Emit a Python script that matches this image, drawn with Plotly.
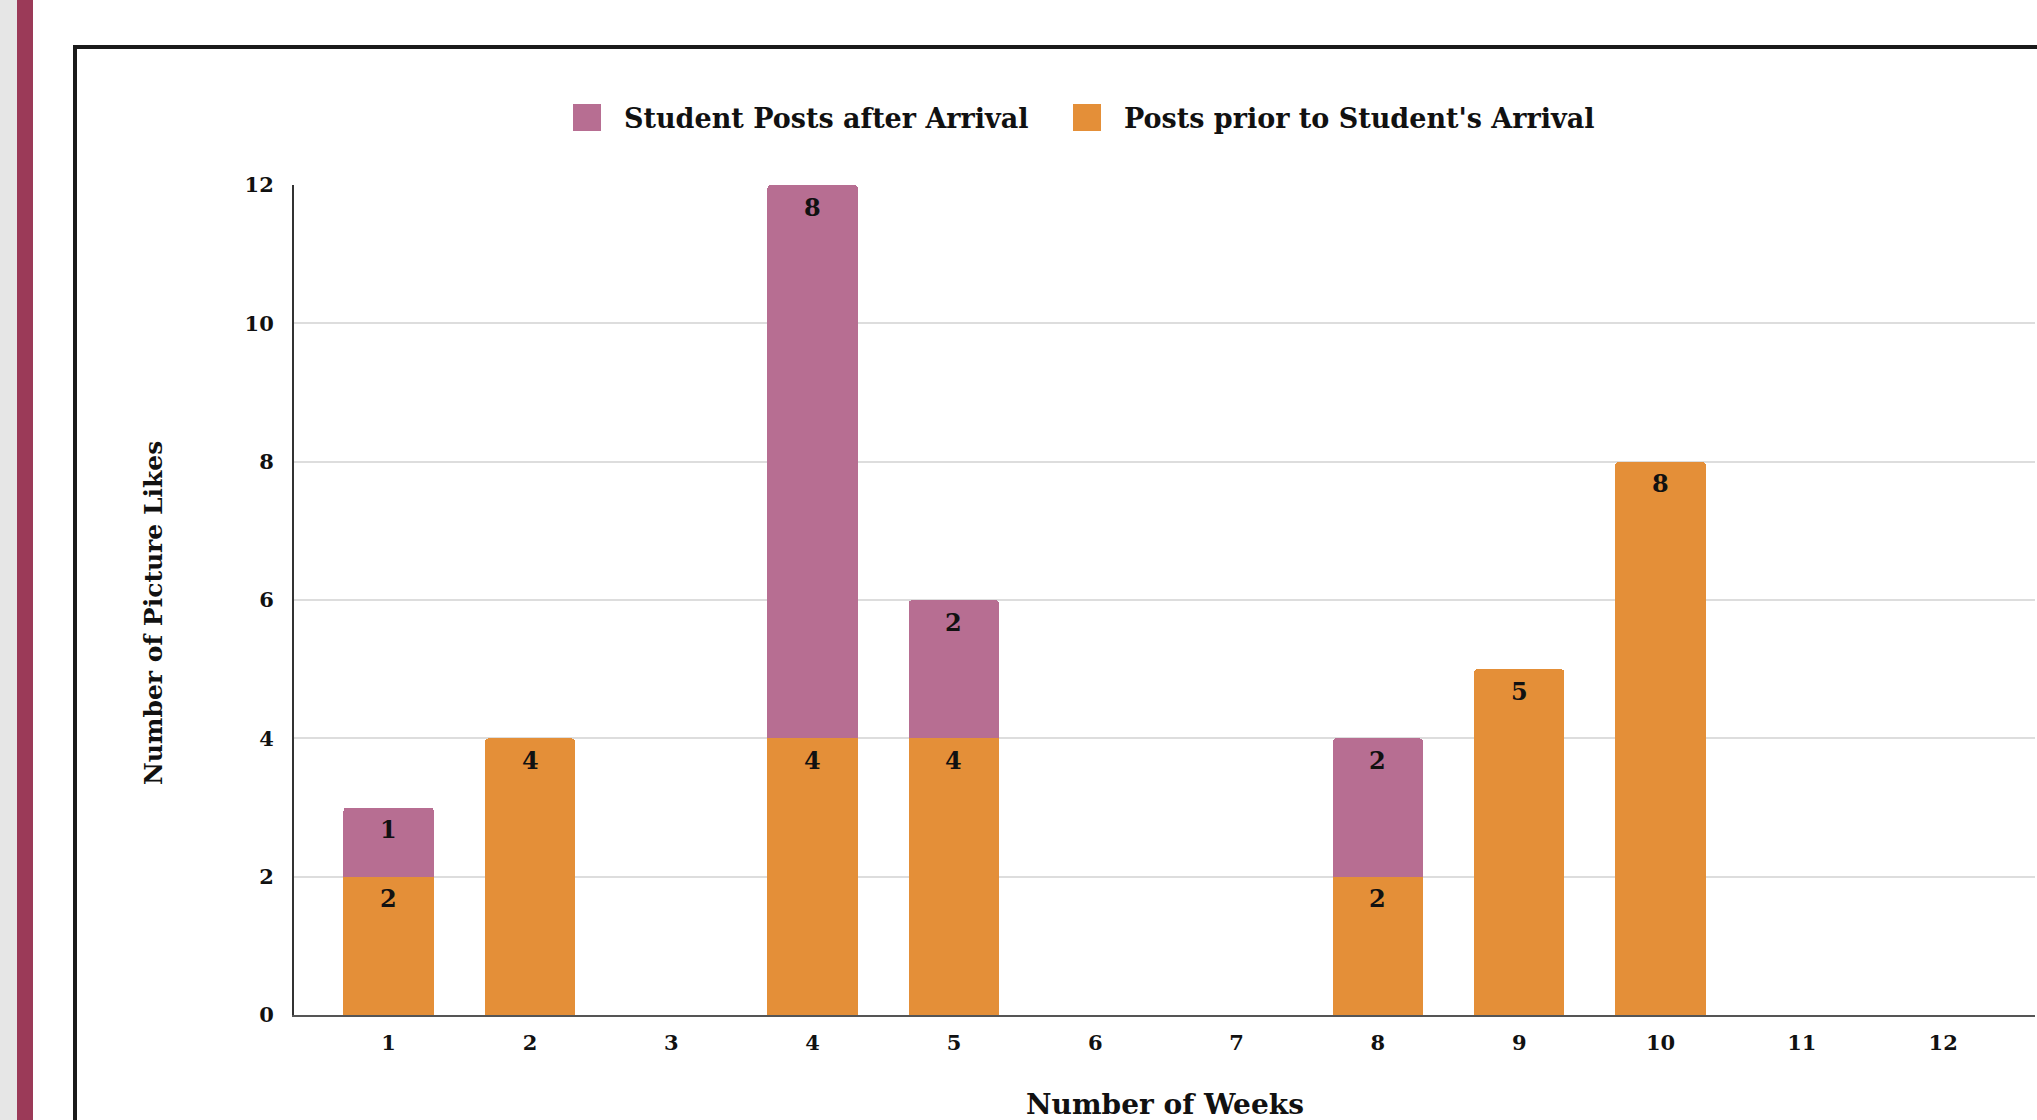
import plotly.graph_objects as go

weeks = [1, 2, 3, 4, 5, 6, 7, 8, 9, 10, 11, 12]
week_labels = ["1", "2", "3", "4", "5", "6", "7", "8", "9", "10", "11", "12"]
prior_posts = [2, 4, 0, 4, 4, 0, 0, 2, 5, 8, 0, 0]
after_posts = [1, 0, 0, 8, 2, 0, 0, 2, 0, 0, 0, 0]
y_ticks = [0, 2, 4, 6, 8, 10, 12]
series_names = ["Student Posts after Arrival", "Posts prior to Student's Arrival"]

ORANGE = "#e48f38"
PURPLE = "#b76e92"
FONT = "DejaVu Serif"
INK = "#111111"

W, H = 2037, 1120
L, R, T, B = 294, 2, 185, 105
pw = W - L - R
ph = H - T - B


def px(x):
    return (x - L) / pw


def py(y):
    return (H - B - y) / ph


fig = go.Figure()
fig.add_trace(go.Bar(
    x=weeks, y=prior_posts, name=series_names[1],
    marker=dict(color=ORANGE, line=dict(width=0)), width=0.64, showlegend=False,
))
fig.add_trace(go.Bar(
    x=weeks, y=after_posts, name=series_names[0],
    marker=dict(color=PURPLE, line=dict(width=0)), width=0.64, showlegend=False,
))

lab_font = dict(family=FONT, size=24, color=INK, weight="bold")
annotations = []
for w, p, a in zip(weeks, prior_posts, after_posts):
    if p > 0:
        annotations.append(dict(x=w, y=p, xref="x", yref="y", text=str(p),
                                showarrow=False, yanchor="middle", yshift=-22, font=lab_font))
    if a > 0:
        annotations.append(dict(x=w, y=p + a, xref="x", yref="y", text=str(a),
                                showarrow=False, yanchor="middle", yshift=-22, font=lab_font))

annotations.append(dict(x=px(153), y=py(613), xref="paper", yref="paper",
                        text="Number of Picture Likes", textangle=-90, showarrow=False,
                        xanchor="center", yanchor="middle",
                        font=dict(family=FONT, size=25, color=INK, weight="bold")))
annotations.append(dict(x=px(1165), y=py(1104), xref="paper", yref="paper",
                        text="Number of Weeks", showarrow=False,
                        xanchor="center", yanchor="middle",
                        font=dict(family=FONT, size=28, color=INK, weight="bold")))

# manual legend (larger swatches than plotly's built-in legend allows)
leg_font = dict(family=FONT, size=27, color=INK, weight="bold")
legend_items = [(series_names[0], PURPLE, 573, 622), (series_names[1], ORANGE, 1073, 1122)]
shapes = [
    dict(type="rect", xref="paper", yref="paper", x0=px(-5), x1=px(17), y0=py(H + 10), y1=py(-10),
         fillcolor="#e6e6e6", line=dict(width=0), layer="below"),
    dict(type="rect", xref="paper", yref="paper", x0=px(17), x1=px(33), y0=py(H + 10), y1=py(-10),
         fillcolor="#9b3a58", line=dict(width=0), layer="below"),
    dict(type="line", xref="paper", yref="paper", x0=px(75), x1=px(75), y0=py(47), y1=py(H + 20),
         line=dict(color="#1a1a1a", width=4)),
    dict(type="line", xref="paper", yref="paper", x0=px(73), x1=px(W + 20), y0=py(47), y1=py(47),
         line=dict(color="#1a1a1a", width=4)),
]
for name, color, sx, tx in legend_items:
    shapes.append(dict(type="rect", xref="paper", yref="paper",
                       x0=px(sx), x1=px(sx + 28), y0=py(131), y1=py(104),
                       fillcolor=color, line=dict(width=0)))
    annotations.append(dict(x=px(tx), y=py(118), xref="paper", yref="paper", text=name,
                            showarrow=False, xanchor="left", yanchor="middle", font=leg_font))

fig.update_layout(
    width=W, height=H,
    margin=dict(l=L, r=R, t=T, b=B, autoexpand=False),
    barmode="stack",
    barcornerradius=4,
    plot_bgcolor="white", paper_bgcolor="white",
    font=dict(family=FONT, color=INK),
    showlegend=False,
    annotations=annotations,
    shapes=shapes,
)
fig.update_xaxes(
    range=[0.33, 12.65], tickmode="array", tickvals=weeks, ticktext=week_labels,
    showgrid=False, showline=True, linecolor="#555555", linewidth=2,
    ticks="outside", ticklen=8, tickcolor="rgba(0,0,0,0)",
    tickfont=dict(family=FONT, size=21, color=INK, weight="bold"),
    zeroline=False,
)
fig.update_yaxes(
    range=[0, 12], tickmode="array", tickvals=y_ticks,
    showgrid=True, gridcolor="#dddddd", gridwidth=2,
    showline=True, linecolor="#333333", linewidth=2,
    ticks="outside", ticklen=14, tickcolor="rgba(0,0,0,0)",
    tickfont=dict(family=FONT, size=21, color=INK, weight="bold"),
    zeroline=False,
)

fig.write_html("out.html", config={"displayModeBar": False},
               post_script="document.body.style.margin='0';document.body.style.overflow='hidden';")
